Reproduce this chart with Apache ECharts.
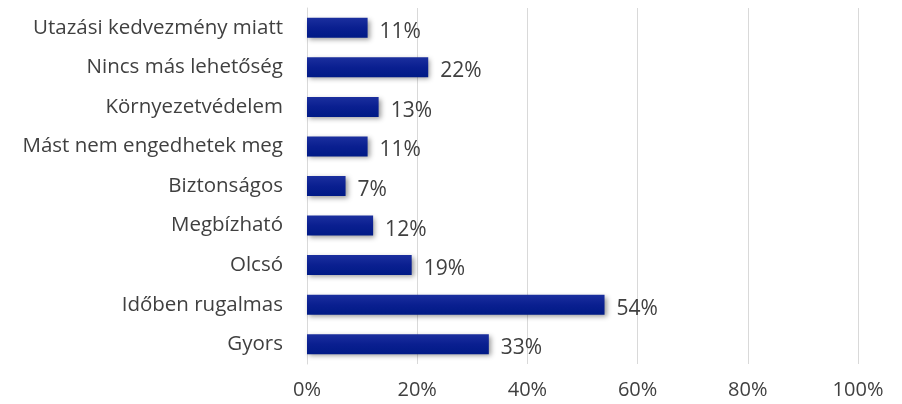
<!DOCTYPE html>
<html lang="hu">
<head>
    <meta charset="UTF-8">
    <title>echarts</title>
    <style>
        body { margin: 0; background: #fff; }
    </style>
    <script src="https://cdn.jsdelivr.net/npm/echarts@6/dist/echarts.min.js"></script>
</head>
<body>
    <div id="main" style="width:902px;height:404px"></div>
    <script>
        var categories = ['Gyors', 'Időben rugalmas', 'Olcsó', 'Megbízható', 'Biztonságos',
            'Mást nem engedhetek meg', 'Környezetvédelem', 'Nincs más lehetőség', 'Utazási kedvezmény miatt'];
        var values = [33, 54, 19, 12, 7, 11, 13, 22, 11];
        var xTicks = [0, 20, 40, 60, 80, 100];

        var myChart = echarts.init(document.getElementById('main'));
        var font = '"Open Sans", Lato, sans-serif';

        var option = {
            animation: false,
            grid: { left: 307, right: 44, top: 8, bottom: 40 },
            xAxis: {
                type: 'value',
                min: xTicks[0],
                max: xTicks[xTicks.length - 1],
                interval: 20,
                axisLine: { show: false },
                axisTick: { show: false },
                splitLine: { lineStyle: { color: '#d9d9d9', width: 1 } },
                axisLabel: {
                    formatter: '{value}%',
                    color: '#404040',
                    fontFamily: font,
                    fontSize: 20,
                    margin: 16
                }
            },
            yAxis: {
                type: 'category',
                data: categories,
                axisLine: { show: true, lineStyle: { color: '#d9d9d9' } },
                axisTick: { show: false },
                axisLabel: {
                    color: '#404040',
                    fontFamily: font,
                    fontSize: 20.5,
                    margin: 24
                }
            },
            series: [{
                type: 'bar',
                data: values,
                barWidth: 20,
                itemStyle: {
                    color: new echarts.graphic.LinearGradient(0, 0, 0, 1, [
                        { offset: 0, color: '#1b2f9e' },
                        { offset: 0.5, color: '#0a1f90' },
                        { offset: 1, color: '#001a86' }
                    ]),
                    shadowColor: 'rgba(0,0,0,0.4)',
                    shadowBlur: 5,
                    shadowOffsetX: 2,
                    shadowOffsetY: 2
                },
                label: {
                    show: true,
                    position: 'right',
                    distance: 12,
                    offset: [0, 4],
                    formatter: '{c}%',
                    color: '#404040',
                    fontFamily: font,
                    fontSize: 21
                }
            }]
        };
        myChart.setOption(option);
    </script>
</body>
</html>
